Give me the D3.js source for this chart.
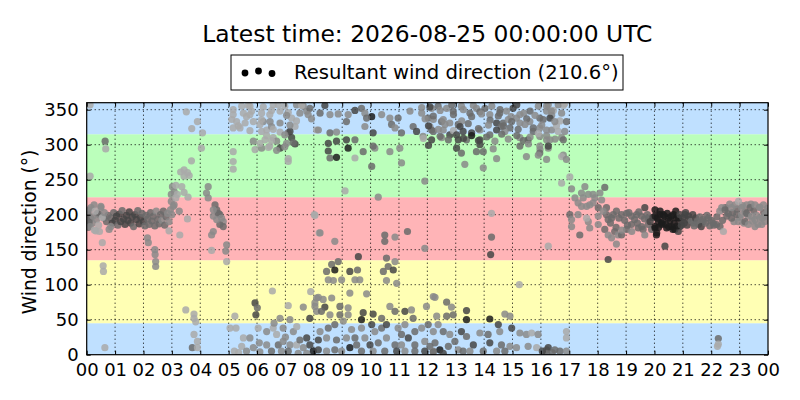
<html>
<head>
  <meta charset="utf8">
  <title>Wind direction</title>
  <style>
  * { margin: 0; padding: 0; }
  body { background: #fff; }
  text { font-family: "DejaVu Sans", sans-serif; fill: #000; }
  .grid line { stroke: #000; stroke-width: 1px; stroke-dasharray: 1, 3; }
  .frame { fill: none; stroke: #000; stroke-width: 1.2px; }
  .tick line { stroke: #000; stroke-width: 1px; }
  </style>
</head>
<body>
<script src="https://cdn.jsdelivr.net/npm/d3@7"></script>
<script>

// labels
var titleText = 'Latest time: 2026-08-25 00:00:00 UTC'
var resultantDir = 210.6
var yLabel = 'Wind direction (°)'
var hourTicks = d3.range(0, 25)
var hourLabels = ['00','01','02','03','04','05','06','07','08','09','10','11',
                  '12','13','14','15','16','17','18','19','20','21','22','23','00']
var dirTicks = [0, 50, 100, 150, 200, 250, 300, 350]

// compass sectors (deg)
var sectorLow  = [0, 45, 135, 225, 315]
var sectorHigh = [45, 135, 225, 315, 360]

// observations: [hour, direction in deg, grey class 1 light .. 5 black]
var obs00to04 = [
  [0.12,357,1],[0.65,305,3],[0.67,294,1],[0.12,255,1],
  [0.09,207,2],[0.26,214,2],[0.38,202,3],[0.14,195,3],[0.09,188,3],[0.5,210,2],[0.44,200,3],
  [0.61,195,2],[0.2,188,2],[0.32,177,1],[0.55,160,1],[0.03,200,3],[0.05,182,3],[0.7,190,3],
  [0.75,199,3],[0.58,127,1],[0.59,119,1],[0.64,10,1],
  [0.03,205,2],[0.08,190,3],[0.15,210,2],[0.22,198,2],[0.3,205,1],[0.35,193,2],[0.42,185,1],
  [0.5,212,2],[0.55,196,1],[0.62,203,2],[0.12,183,2],[0.27,178,1],[0.45,176,1],
  [0.85,195,3],[0.9,188,4],[0.95,203,3],[1.0,192,4],[1.05,198,4],[1.1,185,3],[1.15,201,4],
  [1.2,190,4],[1.25,206,3],[1.3,194,4],[1.35,186,4],[1.4,199,4],[1.45,192,4],[1.5,204,4],
  [1.55,188,4],[1.6,197,4],[1.65,183,3],[1.7,200,4],[1.75,193,4],[1.8,206,3],[1.85,187,4],
  [1.9,196,4],[1.95,202,3],[2.0,190,4],[2.05,184,3],[2.1,199,3],
  [2.15,194,3],[2.2,186,3],[2.25,203,3],[2.3,191,3],[2.35,198,3],[2.4,184,3],[2.45,205,2],
  [2.5,193,3],[2.55,187,3],[2.6,200,3],[2.65,192,2],[2.7,205,3],[2.75,185,3],[2.8,197,3],
  [2.85,202,2],[2.9,190,2],[2.95,207,2],[3.0,200,2],[3.05,212,2],
  [0.79,179,2],[0.85,183,2],
  [2.14,167,2],[2.17,160,2],[2.4,150,2],[2.41,143,2],[2.43,133,2],[2.43,126,2],
  [2.9,177,1],[3.28,171,1],[3.55,194,1],[3.08,214,2],[3.26,205,2],[2.98,219,2],
  [3.02,240,2],[3.08,233,2],[3.14,242,1],[3.35,240,1],[2.98,229,2],[3.19,229,1],[3.43,232,1],
  [3.57,225,1],[3.14,224,1],
  [3.43,264,1],[3.55,260,1],[3.31,261,1],[3.61,256,1],[3.43,255,1],[3.69,277,1],
  [3.51,347,1],[3.9,333,1],[3.7,323,1],
  [3.49,64,1],[3.78,58,1],[3.78,52,1],[3.84,47,1],[3.78,29,1],[3.9,19,1],[3.72,10,3],[3.9,10,1]
]

var obs04to08 = [
  [4.08,317,1],[4.04,295,1],
  [4.28,240,2],[4.22,231,2],[4.28,224,2],[4.52,214,3],[4.58,207,3],[4.69,200,3],[4.46,198,2],
  [4.81,190,2],[4.69,186,3],[4.46,176,2],[4.4,171,2],[4.93,157,2],[4.4,149,1],[4.93,133,1],
  [4.64,202,3],[4.75,195,2],[4.58,193,2],[4.81,183,3],[4.46,207,2],[4.9,148,2],
  [5.46,355,1],[5.75,355,1],[5.52,345,1],[5.16,343,1],[5.63,340,1],[5.87,333,1],[5.28,333,1],
  [5.4,324,1],[5.16,324,1],[6.16,345,1],[6.45,343,1],[6.22,333,2],[6.34,321,1],[6.51,326,2],
  [6.16,319,1],[6.81,331,2],[6.57,310,1],[6.28,307,1],[5.87,305,2],[5.93,293,1],[6.16,295,2],
  [6.45,298,1],[6.81,295,4],[6.69,305,2],
  [6.98,355,1],[7.39,357,2],[7.51,345,2],[7.22,338,1],[7.34,326,1],[7.1,317,2],[7.22,310,4],
  [7.04,302,2],[7.16,319,4],[7.34,301,4],[7.75,348,2],[7.86,352,3],[7.63,355,2],[6.57,357,1],
  [6.81,348,1],
  [5.16,350,1],[5.69,356,1],[5.81,348,1],[6.22,354,1],[6.51,349,1],[6.75,357,1],[7.1,346,1],
  [7.57,356,1],[7.8,343,2],[5.11,336,1],[5.58,331,1],[5.75,343,1],[6.16,336,1],[6.46,333,2],
  [7.04,342,2],[7.39,334,1],[7.92,337,2],[5.34,327,1],[5.75,320,1],[6.1,329,1],[6.57,322,1],
  [6.81,318,1],[7.16,328,2],[6.34,313,1],[6.51,306,1],[6.98,314,2],[6.1,302,1],[6.4,296,1],
  [6.69,292,2],[6.98,297,2],[7.28,303,3],[7.1,280,1],
  [5.16,290,1],[5.16,276,1],[5.16,265,1],[7.1,276,1],
  [6.54,91,1],[5.93,74,4],[6.01,67,3],[5.96,57,4],[5.22,55,1],[7.1,70,1],[7.63,68,2],
  [7.89,90,1],[7.86,52,4],
  [5.05,38,1],[5.26,38,1],[5.52,24,1],[5.75,24,2],[6.04,38,1],[6.08,17,2],[6.34,33,2],
  [6.57,38,1],[6.81,52,2],[6.92,38,2],[7.16,50,2],[7.28,33,2],[6.69,29,1],[6.75,14,3],
  [6.34,14,2],[6.92,19,2],[7.16,14,2],[7.39,14,1],[7.51,21,3],[7.75,24,4],[7.63,10,2],
  [7.86,14,4],[7.98,5,5],[5.46,12,1],[5.63,5,2],[5.87,10,2],[6.1,4,2],[6.51,5,3],[6.86,5,2],
  [7.1,5,3],[7.45,2,2],[7.75,2,2],[5.2,5,1],[5.35,3,1],[6.6,45,2],[7.0,25,2],[7.4,40,1]
]

var obs08to12 = [
  [8.1,321,1],[8.02,200,1],[8.19,174,1],[8.1,81,2],[8.04,69,2],
  [8.39,356,4],[8.57,343,2],[8.86,344,2],[8.22,345,3],[8.16,321,2],[8.57,317,3],[8.8,318,2],
  [9.15,333,3],[9.21,343,2],[9.45,349,4],[9.68,352,3],[9.8,345,2],[10.04,340,5],[9.8,326,2],
  [9.86,338,3],[10.09,317,4],[10.39,343,2],[10.68,338,2],[10.74,329,3],[10.97,338,3],
  [10.86,324,2],[11.09,317,3],[11.39,348,2],[11.5,326,3],[11.62,319,4],[11.8,345,2],
  [12.03,338,3],[12.09,326,2],[12.15,321,3],[11.85,312,2],[11.8,353,2],[11.92,337,2],
  [11.86,309,1],
  [8.51,302,4],[8.8,305,4],[9.15,307,4],[9.21,295,5],[9.45,307,3],[9.74,290,3],[10.15,295,2],
  [10.09,298,3],[8.51,291,4],[8.57,281,3],[8.8,282,5],[9.45,281,1],[10.04,269,3],[10.68,290,2],
  [11.03,295,2],[11.09,274,2],[11.91,248,2],[9.1,234,1],[10.27,225,2],
  [8.04,199,1],[8.22,174,2],[8.74,162,2],[9.57,140,4],[10.5,171,3],[10.5,162,3],[10.86,168,2],
  [11.3,176,3],[11.91,152,2],
  [8.63,129,3],[8.86,133,3],[8.74,121,5],[8.45,119,3],[8.51,107,2],[8.69,106,2],[8.98,107,2],
  [9.27,119,4],[9.54,121,3],[9.45,107,2],[9.62,107,2],[10.56,138,3],[10.86,133,2],[10.62,126,3],
  [10.8,121,4],[10.45,119,3],[10.56,106,2],[10.92,102,2],[9.27,88,2],[9.86,87,2],[10.68,69,2],
  [10.86,62,3],[11.21,62,4],[11.44,64,2],[11.5,52,3],[11.97,69,2],[12.21,83,2],[8.16,82,2],
  [8.33,79,2],[8.63,81,2],[8.04,74,2],[8.39,68,4],[8.1,62,2],[8.27,62,3],[8.57,57,2],
  [8.92,69,3],[9.21,67,2],[8.92,57,3],[9.21,57,2],[9.74,60,4],[10.09,58,4],[10.39,52,3],
  [9.68,50,5],
  [8.22,33,2],[8.51,38,3],[9.04,48,2],[8.74,43,3],[9.33,36,2],[9.45,24,3],[9.68,38,2],
  [10.04,43,4],[10.15,33,2],[10.39,38,3],[10.56,43,4],[10.97,38,2],[11.09,29,3],[11.21,43,2],
  [11.56,33,3],[11.8,38,2],[12.03,43,3],[12.21,33,2],[8.16,21,4],[8.45,24,2],[8.8,21,3],
  [9.15,24,2],[9.51,14,3],[9.8,24,2],[9.98,14,4],[10.27,17,3],[10.56,24,2],[10.86,14,3],
  [11.09,14,2],[11.33,24,4],[11.56,14,3],[11.91,19,2],[12.09,12,3],[8.16,7,4],[8.45,5,2],
  [8.74,7,3],[8.98,5,2],[9.27,10,5],[9.68,5,3],[10.09,5,2],[10.5,5,3],[10.92,5,4],[11.21,5,2],
  [11.56,5,3],[11.91,5,4],[12.21,5,2]
]

var obs12to16 = [
  [12.15,352,2],[12.38,355,3],[12.68,352,2],[12.91,348,3],[13.2,355,2],[13.5,345,3],
  [13.73,352,2],[14.03,352,3],[14.2,343,2],[14.44,331,4],[14.55,345,3],[14.79,348,2],
  [15.02,352,4],[15.14,338,2],[14.91,324,3],[14.73,319,2],[15.26,331,2],[15.61,333,2],
  [15.96,338,3],[12.21,336,2],[12.5,333,3],[12.79,331,2],[13.09,329,3],
  [13.26,319,4],[13.56,317,4],[13.85,321,2],[13.85,307,4],[14.2,314,3],[14.38,305,2],
  [15.26,310,2],[15.55,307,4],[15.96,312,2],[12.21,319,3],[12.56,321,2],
  [12.79,314,4],[13.09,307,4],[13.38,307,3],[12.15,307,4],[12.5,310,2],[15.96,324,2],
  [15.73,319,3],[14.67,331,3],[14.85,336,2],[14.6,326,3],[14.95,340,2],[15.4,345,2],
  [12.09,354,4],[12.45,349,2],[12.86,357,3],[13.27,350,2],[13.62,356,2],[13.85,347,3],
  [14.27,355,2],[14.56,350,3],[15.15,357,4],[15.62,348,3],[15.91,355,2],
  [12.21,341,3],[12.56,336,2],[12.92,343,3],[13.21,334,2],[13.56,340,3],[13.91,344,2],
  [14.21,335,3],[14.5,341,3],[14.97,333,3],[15.26,343,2],[15.5,337,3],[15.79,342,2],
  [12.04,327,4],[12.39,322,2],[12.62,329,2],[12.92,320,1],[13.15,326,4],[13.44,330,3],
  [13.8,323,3],[14.15,328,2],[14.44,321,4],[14.68,327,3],[15.2,322,3],[15.44,329,2],
  [15.73,324,3],
  [12.45,312,3],[12.74,307,3],[13.03,314,4],[13.27,309,4],[13.56,313,5],[13.8,306,4],
  [14.09,311,3],[14.62,315,3],[14.85,308,2],[15.15,313,3],[15.38,306,3],[15.62,311,2],
  [15.91,316,1],
  [12.04,299,4],[13.03,295,4],[13.85,300,4],[14.32,294,2],[15.26,298,3],[15.56,301,2],
  [15.97,293,2],
  [13.2,288,3],[13.73,290,3],[13.97,290,3],[14.44,280,2],[13.32,272,2],[13.97,267,2],
  [15.49,283,2],[15.96,298,2],[15.96,288,3],[15.91,285,2],
  [14.26,202,1],[14.26,168,3],[14.23,143,4],
  [15.24,100,1],[12.27,82,2],[12.68,75,3],[12.85,68,2],[12.91,57,3],[13.38,63,4],[13.38,50,5],
  [14.2,51,5],[14.73,58,2],[14.91,55,2],[12.68,55,3],[12.33,55,2],
  [12.38,43,2],[12.56,33,3],[12.79,29,2],[12.97,19,3],[13.2,33,4],[13.38,26,3],[13.62,14,4],
  [13.85,31,2],[14.14,29,3],[14.2,17,4],[14.5,43,4],[14.55,33,2],[14.97,38,4],[14.61,14,3],
  [14.91,12,2],[15.26,31,2],[15.49,29,2],[15.67,31,1],[15.9,29,2],[12.27,17,3],[12.44,7,5],
  [12.74,12,3],[13.09,7,2],[13.26,5,3],[13.5,5,2],[13.97,5,3],[14.44,5,2],[14.73,5,3],
  [15.14,10,2],[15.55,12,2],[15.85,10,1],[12.21,4,3],[12.56,2,4]
]

var obs16to20 = [
  [16.2,348,2],[16.2,307,2],[16.2,279,2],[16.26,155,1],[16.2,7,3],
  [16.2,355,2],[16.44,349,1],[16.79,356,1],[16.08,336,3],[16.38,342,2],[16.67,334,1],
  [16.03,328,2],[16.38,321,2],[16.55,327,1],[16.2,313,2],[16.5,308,2],[16.26,295,2],
  [16.79,285,2],
  [16.26,357,2],[16.61,357,2],[16.84,359,1],[16.32,338,4],[16.49,333,2],[16.37,348,2],
  [16.73,345,2],[16.9,333,3],[16.2,321,2],[16.61,319,1],[16.84,319,2],[16.73,310,2],
  [16.79,307,3],[16.32,307,2],[16.26,298,4],[16.73,283,1],[16.9,279,2],
  [17.02,254,1],[16.73,245,1],
  [17.08,237,2],[17.2,224,2],[17.43,231,2],[17.55,240,2],[17.49,224,2],[17.31,217,2],
  [17.67,229,2],[17.84,229,2],[17.9,224,2],[18.08,231,2],[18.25,239,3],[18.14,221,2],
  [17.72,214,2],[17.43,212,2],[17.61,212,2],[17.84,217,2],[17.02,200,3],[17.08,193,2],
  [17.08,183,2],[17.31,200,2],[17.67,190,2],[17.61,195,1],[17.72,181,2],[17.37,171,3],
  [18.02,210,3],[18.02,198,2],[18.02,186,2],[18.31,210,3],[18.31,200,3],[18.19,205,2],
  [18.37,193,3],[18.49,195,3],[18.66,205,3],[18.84,200,3],[19.02,202,3],[19.19,198,3],
  [19.37,200,3],[19.54,198,3],[19.66,210,4],[19.78,195,3],[18.25,179,3],[18.37,171,2],
  [18.49,167,2],[18.6,176,3],[18.72,171,2],[18.66,158,2],[18.84,171,3],[19.02,179,3],
  [19.19,186,3],[19.43,181,3],[19.6,179,3],[19.66,171,2],[19.9,179,3],[19.78,186,3],
  [18.45,188,3],[18.55,200,3],[18.65,182,3],[18.75,195,3],[18.85,178,2],[18.95,192,3],
  [19.05,185,3],[19.1,203,3],[19.2,176,2],[19.3,193,3],[19.4,188,3],[19.45,204,3],
  [19.55,183,3],[19.65,194,3],[19.75,200,3],[19.85,190,4],[19.95,196,4],
  [18.37,136,4],[16.9,33,1],[16.9,24,1],[16.26,10,4],[16.49,7,3],[16.67,5,3],[16.9,5,2],
  [16.2,2,3],[16.05,5,4],[16.4,3,3]
]

var obs20to24 = [
  [20.02,207,5],[20.19,200,5],[20.25,188,5],[20.02,181,5],[20.07,171,5],
  [20.02,198,5],[20.14,190,5],[20.31,200,5],[20.49,195,5],[20.67,200,5],[20.78,195,5],
  [20.96,190,4],[21.08,200,4],[21.19,193,4],[21.37,188,3],[21.55,186,3],[21.72,190,3],
  [21.9,195,3],[22.07,188,3],[22.19,186,3],[22.31,183,3],[22.43,176,1],[20.02,183,5],
  [20.08,174,5],[20.25,186,5],[20.43,181,5],[20.61,183,5],[20.72,179,5],[20.9,183,4],
  [20.84,176,4],[20.37,155,4],
  [20.1,195,5],[20.15,182,5],[20.2,205,5],[20.3,190,5],[20.35,198,5],[20.4,186,5],
  [20.45,202,5],[20.5,183,5],[20.55,192,5],[20.6,198,5],[20.65,179,5],[20.7,188,5],
  [20.75,205,5],[20.8,184,5],[20.85,195,5],[20.9,200,4],[20.95,185,4],
  [21.0,196,4],[21.05,188,4],[21.1,203,4],[21.15,185,4],[21.2,198,4],[21.3,191,3],
  [21.35,200,4],[21.4,184,3],[21.45,195,4],[21.5,190,3],[21.6,197,3],[21.65,183,4],
  [21.7,193,3],[21.8,188,3],[21.85,199,3],[21.95,184,3],
  [22.0,192,3],[22.1,185,3],[22.2,197,3],[22.3,205,2],[22.4,192,3],[22.5,210,3],[22.55,198,3],
  [22.65,215,2],[22.75,203,3],[22.8,190,2],[22.9,208,3],[23.0,196,2],[23.1,213,2],
  [23.15,188,2],[23.2,204,3],[23.3,198,2],[23.4,215,2],[23.45,191,2],[23.5,206,3],
  [23.6,199,2],[23.65,186,2],[23.7,211,2],[23.8,195,2],[23.85,203,3],[23.95,198,2],
  [23.98,209,2],
  [22.37,210,2],[22.49,207,3],[22.6,202,3],[22.72,210,2],[22.84,214,2],[22.96,219,1],
  [23.07,210,2],[23.25,214,2],[23.37,210,3],[23.54,214,2],[23.72,210,2],[23.84,214,2],
  [22.72,195,3],[22.9,200,3],[23.07,200,2],[23.25,202,3],[23.42,198,2],[23.54,193,2],
  [23.72,195,2],[23.89,200,2],[22.96,190,2],[23.19,190,3],[23.31,186,2],[23.54,183,2],
  [23.78,186,2],[23.89,190,2],[24.0,205,2],
  [22.25,23,3],[22.22,12,1],[22.25,15,1]
]

var sectorColor = ['#bfe0ff', '#ffffb4', '#ffb4b7', '#bbffbb', '#bfe0ff']
var greyClass = ['#a9a9a9', '#8a8a8a', '#6b6b6b', '#454545', '#1c1c1c']

var W = 800, H = 400
var plotL = 86.7, plotR = 768, plotT = 102.7, plotB = 354.7

var x = d3.scaleLinear().domain([0, 24]).range([plotL, plotR])
var y = d3.scaleLinear().domain([0, 360]).range([plotB, plotT])

var svg = d3.select('body').append('svg')
  .attr('width', W).attr('height', H)
  .attr('viewBox', `0 0 ${W} ${H}`)

svg.append('defs').append('clipPath').attr('id', 'plotclip')
  .append('rect')
  .attr('x', plotL).attr('y', plotT)
  .attr('width', plotR - plotL).attr('height', plotB - plotT)

// sector bands
svg.append('g').selectAll('rect')
  .data(sectorLow)
  .enter().append('rect')
  .attr('x', plotL)
  .attr('width', plotR - plotL)
  .attr('y', (d, i) => y(sectorHigh[i]))
  .attr('height', (d, i) => y(d) - y(sectorHigh[i]))
  .attr('fill', (d, i) => sectorColor[i])

// dotted grid
var grid = svg.append('g').attr('class', 'grid')
grid.selectAll('.gx').data(hourTicks.slice(1, -1)).enter().append('line')
  .attr('x1', d => x(d)).attr('x2', d => x(d))
  .attr('y1', plotT).attr('y2', plotB)
grid.selectAll('.gy').data(dirTicks.slice(1)).enter().append('line')
  .attr('x1', plotL).attr('x2', plotR)
  .attr('y1', d => y(d)).attr('y2', d => y(d))

// points
var allObs = [].concat(obs00to04, obs04to08, obs08to12, obs12to16, obs16to20, obs20to24)
svg.append('g').attr('clip-path', 'url(#plotclip)')
  .selectAll('circle')
  .data(allObs)
  .enter().append('circle')
  .attr('cx', d => x(d[0]))
  .attr('cy', d => y(d[1]))
  .attr('r', 3.6)
  .attr('fill', d => greyClass[d[2] - 1])
  .attr('fill-opacity', 0.85)

// frame
svg.append('rect').attr('class', 'frame')
  .attr('x', plotL).attr('y', plotT)
  .attr('width', plotR - plotL).attr('height', plotB - plotT)

// axes, classic inward ticks on all four sides
var xb = svg.append('g').attr('transform', `translate(0,${plotB})`)
  .call(d3.axisBottom(x).tickValues(hourTicks).tickSizeInner(-4).tickSizeOuter(0)
    .tickPadding(9).tickFormat((d, i) => hourLabels[i]))
var xt = svg.append('g').attr('transform', `translate(0,${plotT})`)
  .call(d3.axisTop(x).tickValues(hourTicks).tickSizeInner(-4).tickSizeOuter(0).tickFormat(''))
var yl = svg.append('g').attr('transform', `translate(${plotL},0)`)
  .call(d3.axisLeft(y).tickValues(dirTicks).tickSizeInner(-4).tickSizeOuter(0).tickPadding(8))
var yr = svg.append('g').attr('transform', `translate(${plotR},0)`)
  .call(d3.axisRight(y).tickValues(dirTicks).tickSizeInner(-4).tickSizeOuter(0).tickFormat(''))
;[xb, xt, yl, yr].forEach(a => a.select('.domain').remove())
svg.selectAll('.tick text')
  .style('font-family', '"DejaVu Sans", sans-serif')
  .style('font-size', '18px')
  .attr('fill', '#000')

// y label
svg.append('text')
  .attr('transform', 'translate(36,232) rotate(-90)')
  .attr('text-anchor', 'middle')
  .style('font-size', '18.7px')
  .text(yLabel)

// title
svg.append('text')
  .attr('x', (plotL + plotR) / 2).attr('y', 42)
  .attr('text-anchor', 'middle')
  .style('font-size', '23.4px')
  .text(titleText)

// legend
var lg = svg.append('g')
lg.append('rect')
  .attr('x', 231).attr('y', 55).attr('width', 392).attr('height', 35)
  .attr('fill', '#fff').attr('stroke', '#000').attr('stroke-width', 1)
var legendDotOffset = [1, -1, 1.5]
lg.selectAll('circle').data(legendDotOffset).enter().append('circle')
  .attr('cx', (d, i) => 245 + i * 13.5)
  .attr('cy', d => 72 + d)
  .attr('r', 3.4)
  .attr('fill', '#000')
lg.append('text')
  .attr('x', 294).attr('y', 79)
  .style('font-size', '19.6px')
  .text('Resultant wind direction (' + resultantDir.toFixed(1) + '°)')

</script>
</body>
</html>
